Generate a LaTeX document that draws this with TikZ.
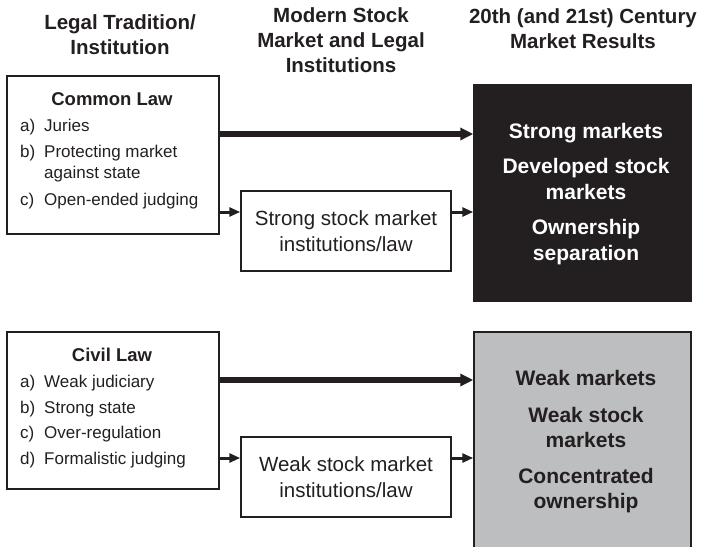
\documentclass[tikz,border=0pt]{standalone}
\usepackage{fontspec}
\setmainfont{Liberation Sans}
\usepackage{tikz}
\usetikzlibrary{arrows.meta}

\definecolor{inkdark}{RGB}{35,31,32}
\definecolor{resgray}{RGB}{188,190,192}
\newcommand{\lawlabel}[2]{\makebox[24pt][l]{#1}#2}

\begin{document}
\begin{tikzpicture}[x=1pt,y=-1pt,
  colhead/.style={font=\fontsize{20.5}{25}\selectfont\bfseries, align=center, anchor=north, inner sep=0pt, text=inkdark},
  lawbox/.style={draw=inkdark, line width=1.5pt, minimum width=212pt, minimum height=158pt, inner sep=0pt},
  lawtitle/.style={font=\fontsize{18.5}{22}\selectfont\bfseries, anchor=base, inner sep=0pt, text=inkdark},
  lawitem/.style={font=\fontsize{17}{21}\selectfont, anchor=base west, inner sep=0pt, text=inkdark},
  midbox/.style={draw=inkdark, line width=1.5pt, minimum width=210pt, minimum height=80pt, inner sep=0pt, align=center, font=\fontsize{20.5}{26}\selectfont, text=inkdark},
  resbox/.style={draw=inkdark, line width=1.5pt, minimum width=217pt, inner sep=0pt},
  restext/.style={font=\fontsize{21}{25.5}\selectfont\bfseries, align=center, anchor=north, inner sep=0pt},
  bigarrow/.style={draw=inkdark, line width=5.5pt, -{Triangle[length=13pt,width=12pt]}},
  smallarrow/.style={draw=inkdark, line width=3pt, -{Triangle[length=11pt,width=9pt]}}]

\useasboundingbox (0,0) rectangle (703,546);

% column headings
\node (hlegal) [colhead] at (120,14) {Legal Tradition/\\Institution};
\node (hmodern) [colhead] at (341,7) {Modern Stock\\Market and Legal\\Institutions};
\node (hresult) [colhead] at (583,8) {20th (and 21st) Century\\Market Results};

% common law row
\node (cl) [lawbox] at (113,155) {};
\node (cltitle) [lawtitle] at (112,105) {Common Law};
\node (cla) [lawitem] at (20,131) {\lawlabel{a)}{Juries}};
\node (clb) [lawitem] at (20,157) {\lawlabel{b)}{Protecting market}};
\node (clbb) [lawitem] at (44,178) {against state};
\node (clc) [lawitem] at (20,205) {\lawlabel{c)}{Open-ended judging}};

\node (ssm) [midbox] at (346,231) {Strong stock market\\institutions/law};

\node (res) [resbox, fill=inkdark, minimum height=216pt] at (582.5,193) {};
\node (restxt) [restext, text=white] at (586,123) {Strong markets\\[10pt]Developed stock\\markets\\[10pt]Ownership\\separation};

\draw [bigarrow] ([yshift=21pt]cl.east) -- ([yshift=59pt]res.west);
\draw [smallarrow] ([yshift=-57pt]cl.east) -- ([yshift=19pt]ssm.west);
\draw [smallarrow] ([yshift=19pt]ssm.east) -- ([yshift=-19pt]res.west);

% civil law row
\node (cv) [lawbox, minimum height=157pt] at (113,410.5) {};
\node (cvtitle) [lawtitle] at (112,361) {Civil Law};
\node (cva) [lawitem] at (20,387) {\lawlabel{a)}{Weak judiciary}};
\node (cvb) [lawitem] at (20,413) {\lawlabel{b)}{Strong state}};
\node (cvc) [lawitem] at (20,438) {\lawlabel{c)}{Over-regulation}};
\node (cvd) [lawitem] at (20,464) {\lawlabel{d)}{Formalistic judging}};

\node (wsm) [midbox] at (346,477) {Weak stock market\\institutions/law};

\node (wres) [resbox, fill=resgray, minimum height=228pt] at (582.5,446) {};
\node (wrestxt) [restext, text=inkdark] at (586,370.5) {Weak markets\\[11pt]Weak stock\\markets\\[10pt]Concentrated\\ownership};

\draw [bigarrow] ([yshift=30.5pt]cv.east) -- ([yshift=66pt]wres.west);
\draw [smallarrow] ([yshift=-47.5pt]cv.east) -- ([yshift=19pt]wsm.west);
\draw [smallarrow] ([yshift=19pt]wsm.east) -- ([yshift=-12pt]wres.west);

\end{tikzpicture}
\end{document}
